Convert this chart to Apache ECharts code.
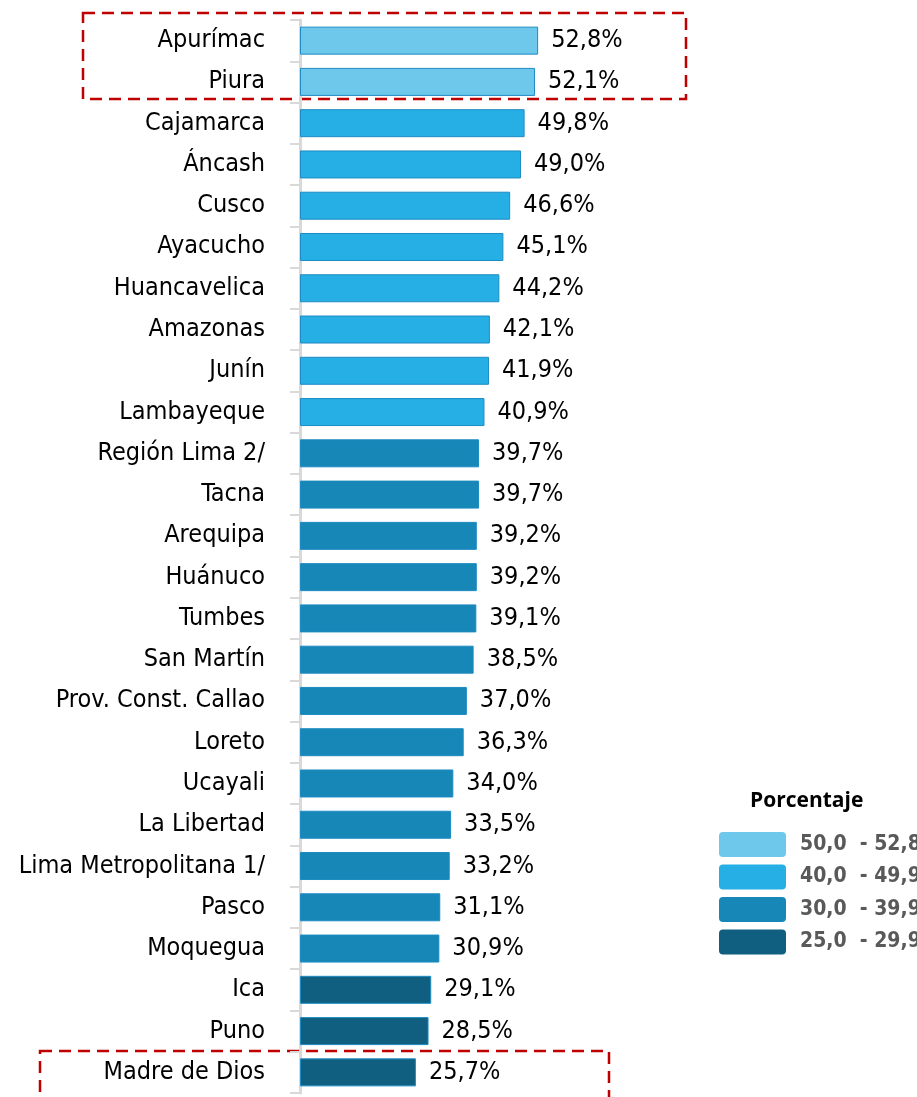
<!DOCTYPE html>
<html>
<head>
<meta charset="utf-8">
<script src="https://cdn.jsdelivr.net/npm/echarts@6/dist/echarts.min.js"></script>
<style>
	html, body { margin: 0; padding: 0; background: #fff; }
	#chart { width: 917px; height: 1097px; }
</style>
</head>
<body>
<div id="chart"></div>
<script>
	// datos
	var regiones = ['Apurímac', 'Piura', 'Cajamarca', 'Áncash', 'Cusco', 'Ayacucho', 'Huancavelica',
		'Amazonas', 'Junín', 'Lambayeque', 'Región Lima 2/', 'Tacna', 'Arequipa', 'Huánuco', 'Tumbes',
		'San Martín', 'Prov. Const. Callao', 'Loreto', 'Ucayali', 'La Libertad', 'Lima Metropolitana 1/',
		'Pasco', 'Moquegua', 'Ica', 'Puno', 'Madre de Dios'];
	var porcentajes = [52.8, 52.1, 49.8, 49.0, 46.6, 45.1, 44.2, 42.1, 41.9, 40.9, 39.7, 39.7, 39.2, 39.2,
		39.1, 38.5, 37.0, 36.3, 34.0, 33.5, 33.2, 31.1, 30.9, 29.1, 28.5, 25.7];
	var rangosTexto = ['50,0  - 52,8', '40,0  - 49,9', '30,0  - 39,9', '25,0  - 29,9'];
	var rangosColor = ['#6dc8ec', '#25afe5', '#1687b6', '#115f80'];

	var narrow = '"Liberation Sans Narrow", "Arial Narrow", "DejaVu Sans Condensed", sans-serif';

	// leyenda dibujada a mano (se sale del borde derecho como en el original)
	var leyenda = [{
		type: 'text', left: 750, top: 791,
		style: { text: 'Porcentaje', fill: '#000', fontSize: 21, fontWeight: 'bold', fontFamily: '"Open Sans", sans-serif' }
	}];
	rangosTexto.forEach(function (t, i) {
		var y = 832 + i * 32.5;
		leyenda.push({
			type: 'rect', shape: { x: 719, y: y, width: 67, height: 25, r: 4 },
			style: { fill: rangosColor[i] }
		});
		leyenda.push({
			type: 'text', x: 800, y: y + 12.5,
			style: { text: t, fill: '#595959', fontSize: 21, fontWeight: 'bold', fontFamily: narrow, verticalAlign: 'middle' }
		});
	});

	var chart = echarts.init(document.getElementById('chart'));
	chart.setOption({
		animation: false,
		grid: { left: 300, right: 166, top: 20, bottom: 4 },
		xAxis: { type: 'value', min: 0, max: 100, show: false },
		yAxis: {
			type: 'category',
			data: regiones,
			inverse: true,
			axisLine: { show: true, lineStyle: { color: '#d9d9d9', width: 3 } },
			axisTick: { show: true, length: 10, lineStyle: { color: '#d9d9d9', width: 2 } },
			axisLabel: { color: '#000', fontSize: 25, fontFamily: narrow, margin: 35 }
		},
		visualMap: {
			type: 'piecewise',
			show: false,
			seriesIndex: 0,
			dimension: 0,
			pieces: [
				{ gte: 50, color: rangosColor[0] },
				{ gte: 40, lt: 50, color: rangosColor[1] },
				{ gte: 30, lt: 40, color: rangosColor[2] },
				{ gte: 25, lt: 30, color: rangosColor[3] }
			]
		},
		graphic: leyenda.concat([
			{
				type: 'rect', shape: { x: 83, y: 13, width: 603, height: 86 },
				style: { fill: 'none', stroke: '#c00000', lineWidth: 2.5, lineDash: [12, 7] }
			},
			{
				type: 'rect', shape: { x: 40, y: 1051, width: 569, height: 50 },
				style: { fill: 'none', stroke: '#c00000', lineWidth: 2.5, lineDash: [12, 7] }
			}
		]),
		series: [{
			type: 'bar',
			data: porcentajes,
			barWidth: 28,
			itemStyle: { borderColor: '#1e8cc2', borderWidth: 1 },
			label: {
				show: true,
				position: 'right',
				distance: 13,
				color: '#000',
				fontSize: 25,
				fontFamily: narrow,
				formatter: function (p) { return p.value.toFixed(1).replace('.', ',') + '%'; }
			}
		}]
	});
</script>
</body>
</html>
